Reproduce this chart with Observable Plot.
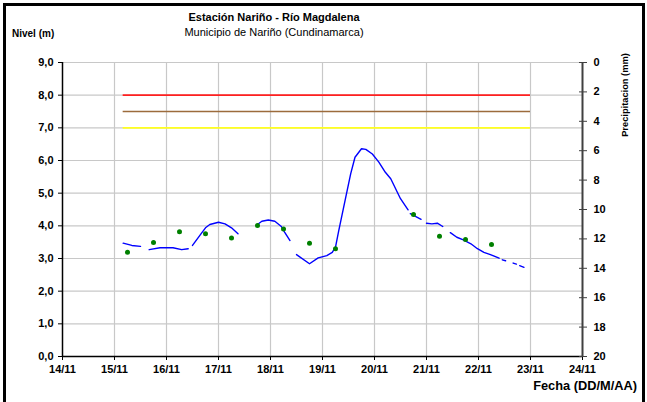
<!DOCTYPE html>
<html><head><meta charset="utf-8">
<script src="https://cdn.jsdelivr.net/npm/d3@7"></script>
<script src="https://cdn.jsdelivr.net/npm/@observablehq/plot@0.6"></script>
<style>
body{margin:0;background:#fff;}
#wrap{position:relative;width:647px;height:402px;overflow:hidden;font-family:"Liberation Sans",Arial,sans-serif;color:#000;}
#chart{position:absolute;left:0;top:0;}
#frame{position:absolute;left:3px;top:3px;width:642px;height:420px;border:3px solid #000;border-bottom:none;box-sizing:border-box;}
.t{position:absolute;white-space:nowrap;}
#title{left:0;width:548px;text-align:center;top:10.6px;font-size:11px;line-height:13px;font-weight:bold;}
#subtitle{left:0;width:548px;text-align:center;top:25.6px;font-size:11px;line-height:13px;}
#ylab{left:12px;top:27.7px;font-size:10px;line-height:12px;font-weight:bold;}
#xlab{right:10px;top:378.7px;font-size:12.8px;line-height:14px;font-weight:bold;}
#y2lab{left:625px;top:95px;font-size:9.3px;line-height:11px;font-weight:bold;transform:translate(-50%,-50%) rotate(-90deg);}
</style></head>
<body>
<div id="wrap">
  <div id="chart"></div>
  <div id="frame"></div>
  <div class="t" id="title">Estación Nariño  - Río Magdalena</div>
  <div class="t" id="subtitle">Municipio de Nariño (Cundinamarca)</div>
  <div class="t" id="ylab">Nivel (m)</div>
  <div class="t" id="xlab">Fecha (DD/M/AA)</div>
  <div class="t" id="y2lab">Precipitacion (mm)</div>
</div>
<script>
// Level series (m); null marks a gap in the record
const levelTimes = [
  "15/11 04:00","15/11 08:00","15/11 12:00","15/11 14:00",
  "15/11 16:00","15/11 21:00","16/11 03:00","16/11 07:00","16/11 10:00","16/11 11:00",
  "16/11 12:00","16/11 16:00","16/11 18:00","16/11 20:00","17/11 00:00","17/11 03:00","17/11 06:00","17/11 09:00","17/11 12:00",
  "17/11 18:00","17/11 20:00","17/11 23:00","18/11 02:00","18/11 05:00","18/11 06:30","18/11 09:00","18/11 10:30",
  "18/11 12:00","18/11 18:00","18/11 22:00","19/11 02:00","19/11 04:30","19/11 06:00","19/11 07:30","19/11 10:30",
  "19/11 13:00","19/11 15:00","19/11 18:00","19/11 20:00","19/11 23:00","20/11 02:00","20/11 05:00","20/11 07:30",
  "20/11 12:00","20/11 15:30","20/11 16:00",
  "20/11 16:30","20/11 21:30","20/11 23:00",
  "21/11 00:00","21/11 02:30","21/11 05:00","21/11 07:30","21/11 09:00",
  "21/11 11:00","21/11 14:00","21/11 17:00","21/11 20:30","21/11 23:30","22/11 02:30","22/11 05:30","22/11 09:30","22/11 10:30",
  "22/11 11:00","22/11 12:30","22/11 14:00",
  "22/11 16:00","22/11 17:30","22/11 18:30",
  "22/11 19:00","22/11 21:00"
];
const levelValues = [
  3.47,3.40,3.37,null,
  3.27,3.33,3.33,3.27,3.30,null,
  3.40,3.76,3.94,4.04,4.11,4.06,3.94,3.76,null,
  4.04,4.14,4.18,4.14,3.98,3.81,3.55,null,
  3.12,2.84,3.02,3.09,3.19,3.35,3.85,4.80,
  5.59,6.10,6.36,6.34,6.20,5.95,5.64,5.44,
  4.83,4.49,null,
  4.37,4.20,null,
  4.08,4.06,4.08,3.98,null,
  3.79,3.65,3.57,3.45,3.30,3.19,3.12,3.01,null,
  2.96,2.93,null,
  2.86,2.83,null,
  2.78,2.73
];
// Green point readings
const dotTimes = ["15/11 06:00","15/11 18:00","16/11 06:00","16/11 18:00","17/11 06:00","17/11 18:00",
  "18/11 06:00","18/11 18:00","19/11 06:00","20/11 18:00","21/11 06:00","21/11 18:00","22/11 06:00"];
const dotValues = [3.19,3.49,3.82,3.76,3.63,4.01,3.90,3.47,3.30,4.35,3.68,3.58,3.43];
// Alert thresholds
const thresholdLevels = [8.0, 7.5, 7.0];
const thresholdColors = ["#ff2020", "#9c6b3c", "#ffff20"];
const thresholdStart = "15/11 04:00";
const thresholdEnd = "23/11 00:00";
// Axes
const levelTicks = [0,1,2,3,4,5,6,7,8,9];
const precipTicks = [0,2,4,6,8,10,12,14,16,18,20];
const xStart = "14/11 00:00", xEnd = "24/11 00:00";

const parse = d3.utcParse("%d/%m %H:%M");
const levelData = levelTimes.map((t,i)=>({date: parse(t), level: levelValues[i]}));
const dots = dotTimes.map((t,i)=>({date: parse(t), level: dotValues[i]}));
const thresholds = thresholdLevels.map((v,i)=>({level:v, color:thresholdColors[i], x1:parse(thresholdStart), x2:parse(thresholdEnd)}));
const x0 = parse(xStart), x1 = parse(xEnd);
const dayTicks = d3.utcDay.range(x0, d3.utcDay.offset(x1, 1));
const innerDays = dayTicks.slice(1, -1);
const yMax = 9, pMax = 20;
const toLevel = p => yMax - p * yMax / pMax;
const gridColor = "#c8c8c8";
const tickFont = {fontSize: 11, fontWeight: "bold"};

const chart = Plot.plot({
  width: 647, height: 402,
  marginLeft: 62, marginRight: 65, marginTop: 62, marginBottom: 46,
  style: {fontFamily: '"Liberation Sans", Arial, sans-serif', fontSize: "11px", fontWeight: "bold", color: "#000", background: "transparent", overflow: "visible"},
  x: {type: "utc", domain: [x0, x1]},
  y: {domain: [0, yMax]},
  color: {type: "identity"},
  marks: [
    Plot.gridX(innerDays, {stroke: gridColor, strokeOpacity: 1, strokeWidth: 1.2}),
    Plot.gridY(levelTicks.slice(1), {stroke: gridColor, strokeOpacity: 1, strokeWidth: 1.2}),
    Plot.ruleY(thresholds, {y: "level", x1: "x1", x2: "x2", stroke: "color", strokeWidth: 1.6}),
    Plot.line(levelData, {x: "date", y: "level", stroke: "#0000ff", strokeWidth: 1.4}),
    Plot.dot(dots, {x: "date", y: "level", r: 2.5, fill: "#008000"}),
    Plot.ruleX([x0], {stroke: "#000", strokeWidth: 1.5}),
    Plot.ruleY([0], {stroke: "#000", strokeWidth: 1.5}),
    Plot.ruleX([x1], {stroke: "#404040", strokeWidth: 2}),
    Plot.axisY(levelTicks, {anchor: "left", tickSize: 4, tickPadding: 5, label: null, ...tickFont, tickFormat: d => d.toFixed(1).replace(".", ",")}),
    Plot.axisX(dayTicks, {anchor: "bottom", tickSize: 4, tickPadding: 5, label: null, ...tickFont, tickFormat: d3.utcFormat("%d/%m")}),
    Plot.axisY(precipTicks.map(toLevel), {anchor: "right", tickSize: 8, dx: -4, stroke: "#404040", label: null, tickFormat: () => ""}),
    Plot.axisY(precipTicks.map(toLevel), {anchor: "right", tickSize: 0, tickPadding: 11, label: null, ...tickFont, tickFormat: v => String(Math.round((yMax - v) * pMax / yMax))})
  ]
});
document.getElementById("chart").appendChild(chart);
</script>
</body></html>
